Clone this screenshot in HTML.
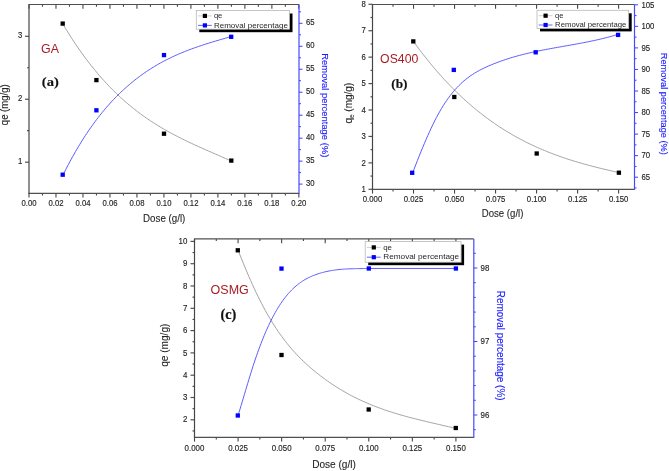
<!DOCTYPE html>
<html><head><meta charset="utf-8"><style>
html,body{margin:0;padding:0;background:#fff;}
body{width:669px;height:471px;overflow:hidden;}
svg{display:block;will-change:transform;}
</style></head><body>
<svg xmlns="http://www.w3.org/2000/svg" width="669" height="471" viewBox="0 0 669 471">
<rect width="669" height="471" fill="#fff"/>
<line x1="29.00" y1="193.30" x2="29.00" y2="197.60" stroke="#454545" stroke-width="1.1"/>
<line x1="29.00" y1="4.50" x2="29.00" y2="8.80" stroke="#454545" stroke-width="1.1"/>
<text transform="translate(29.00 205.70) scale(0.910 1)" font-family="Liberation Sans" font-size="8.5" fill="#262626" text-anchor="middle" stroke="#262626" stroke-width="0.15">0.00</text>
<line x1="42.49" y1="193.30" x2="42.49" y2="195.50" stroke="#454545" stroke-width="1.1"/>
<line x1="42.49" y1="4.50" x2="42.49" y2="6.70" stroke="#454545" stroke-width="1.1"/>
<line x1="55.98" y1="193.30" x2="55.98" y2="197.60" stroke="#454545" stroke-width="1.1"/>
<line x1="55.98" y1="4.50" x2="55.98" y2="8.80" stroke="#454545" stroke-width="1.1"/>
<text transform="translate(55.98 205.70) scale(0.910 1)" font-family="Liberation Sans" font-size="8.5" fill="#262626" text-anchor="middle" stroke="#262626" stroke-width="0.15">0.02</text>
<line x1="69.48" y1="193.30" x2="69.48" y2="195.50" stroke="#454545" stroke-width="1.1"/>
<line x1="69.48" y1="4.50" x2="69.48" y2="6.70" stroke="#454545" stroke-width="1.1"/>
<line x1="82.97" y1="193.30" x2="82.97" y2="197.60" stroke="#454545" stroke-width="1.1"/>
<line x1="82.97" y1="4.50" x2="82.97" y2="8.80" stroke="#454545" stroke-width="1.1"/>
<text transform="translate(82.97 205.70) scale(0.910 1)" font-family="Liberation Sans" font-size="8.5" fill="#262626" text-anchor="middle" stroke="#262626" stroke-width="0.15">0.04</text>
<line x1="96.46" y1="193.30" x2="96.46" y2="195.50" stroke="#454545" stroke-width="1.1"/>
<line x1="96.46" y1="4.50" x2="96.46" y2="6.70" stroke="#454545" stroke-width="1.1"/>
<line x1="109.95" y1="193.30" x2="109.95" y2="197.60" stroke="#454545" stroke-width="1.1"/>
<line x1="109.95" y1="4.50" x2="109.95" y2="8.80" stroke="#454545" stroke-width="1.1"/>
<text transform="translate(109.95 205.70) scale(0.910 1)" font-family="Liberation Sans" font-size="8.5" fill="#262626" text-anchor="middle" stroke="#262626" stroke-width="0.15">0.06</text>
<line x1="123.45" y1="193.30" x2="123.45" y2="195.50" stroke="#454545" stroke-width="1.1"/>
<line x1="123.45" y1="4.50" x2="123.45" y2="6.70" stroke="#454545" stroke-width="1.1"/>
<line x1="136.94" y1="193.30" x2="136.94" y2="197.60" stroke="#454545" stroke-width="1.1"/>
<line x1="136.94" y1="4.50" x2="136.94" y2="8.80" stroke="#454545" stroke-width="1.1"/>
<text transform="translate(136.94 205.70) scale(0.910 1)" font-family="Liberation Sans" font-size="8.5" fill="#262626" text-anchor="middle" stroke="#262626" stroke-width="0.15">0.08</text>
<line x1="150.43" y1="193.30" x2="150.43" y2="195.50" stroke="#454545" stroke-width="1.1"/>
<line x1="150.43" y1="4.50" x2="150.43" y2="6.70" stroke="#454545" stroke-width="1.1"/>
<line x1="163.93" y1="193.30" x2="163.93" y2="197.60" stroke="#454545" stroke-width="1.1"/>
<line x1="163.93" y1="4.50" x2="163.93" y2="8.80" stroke="#454545" stroke-width="1.1"/>
<text transform="translate(163.93 205.70) scale(0.910 1)" font-family="Liberation Sans" font-size="8.5" fill="#262626" text-anchor="middle" stroke="#262626" stroke-width="0.15">0.10</text>
<line x1="177.42" y1="193.30" x2="177.42" y2="195.50" stroke="#454545" stroke-width="1.1"/>
<line x1="177.42" y1="4.50" x2="177.42" y2="6.70" stroke="#454545" stroke-width="1.1"/>
<line x1="190.91" y1="193.30" x2="190.91" y2="197.60" stroke="#454545" stroke-width="1.1"/>
<line x1="190.91" y1="4.50" x2="190.91" y2="8.80" stroke="#454545" stroke-width="1.1"/>
<text transform="translate(190.91 205.70) scale(0.910 1)" font-family="Liberation Sans" font-size="8.5" fill="#262626" text-anchor="middle" stroke="#262626" stroke-width="0.15">0.12</text>
<line x1="204.40" y1="193.30" x2="204.40" y2="195.50" stroke="#454545" stroke-width="1.1"/>
<line x1="204.40" y1="4.50" x2="204.40" y2="6.70" stroke="#454545" stroke-width="1.1"/>
<line x1="217.90" y1="193.30" x2="217.90" y2="197.60" stroke="#454545" stroke-width="1.1"/>
<line x1="217.90" y1="4.50" x2="217.90" y2="8.80" stroke="#454545" stroke-width="1.1"/>
<text transform="translate(217.90 205.70) scale(0.910 1)" font-family="Liberation Sans" font-size="8.5" fill="#262626" text-anchor="middle" stroke="#262626" stroke-width="0.15">0.14</text>
<line x1="231.39" y1="193.30" x2="231.39" y2="195.50" stroke="#454545" stroke-width="1.1"/>
<line x1="231.39" y1="4.50" x2="231.39" y2="6.70" stroke="#454545" stroke-width="1.1"/>
<line x1="244.88" y1="193.30" x2="244.88" y2="197.60" stroke="#454545" stroke-width="1.1"/>
<line x1="244.88" y1="4.50" x2="244.88" y2="8.80" stroke="#454545" stroke-width="1.1"/>
<text transform="translate(244.88 205.70) scale(0.910 1)" font-family="Liberation Sans" font-size="8.5" fill="#262626" text-anchor="middle" stroke="#262626" stroke-width="0.15">0.16</text>
<line x1="258.37" y1="193.30" x2="258.37" y2="195.50" stroke="#454545" stroke-width="1.1"/>
<line x1="258.37" y1="4.50" x2="258.37" y2="6.70" stroke="#454545" stroke-width="1.1"/>
<line x1="271.87" y1="193.30" x2="271.87" y2="197.60" stroke="#454545" stroke-width="1.1"/>
<line x1="271.87" y1="4.50" x2="271.87" y2="8.80" stroke="#454545" stroke-width="1.1"/>
<text transform="translate(271.87 205.70) scale(0.910 1)" font-family="Liberation Sans" font-size="8.5" fill="#262626" text-anchor="middle" stroke="#262626" stroke-width="0.15">0.18</text>
<line x1="285.36" y1="193.30" x2="285.36" y2="195.50" stroke="#454545" stroke-width="1.1"/>
<line x1="285.36" y1="4.50" x2="285.36" y2="6.70" stroke="#454545" stroke-width="1.1"/>
<line x1="298.85" y1="193.30" x2="298.85" y2="197.60" stroke="#454545" stroke-width="1.1"/>
<line x1="298.85" y1="4.50" x2="298.85" y2="8.80" stroke="#454545" stroke-width="1.1"/>
<text transform="translate(298.85 205.70) scale(0.910 1)" font-family="Liberation Sans" font-size="8.5" fill="#262626" text-anchor="middle" stroke="#262626" stroke-width="0.15">0.20</text>
<line x1="25.00" y1="162.20" x2="29.00" y2="162.20" stroke="#505050" stroke-width="1.2"/>
<text transform="translate(22.30 164.24) scale(0.910 1)" font-family="Liberation Sans" font-size="8.5" fill="#262626" text-anchor="end" stroke="#262626" stroke-width="0.15">1</text>
<line x1="25.00" y1="99.25" x2="29.00" y2="99.25" stroke="#505050" stroke-width="1.2"/>
<text transform="translate(22.30 101.29) scale(0.910 1)" font-family="Liberation Sans" font-size="8.5" fill="#262626" text-anchor="end" stroke="#262626" stroke-width="0.15">2</text>
<line x1="25.00" y1="36.30" x2="29.00" y2="36.30" stroke="#505050" stroke-width="1.2"/>
<text transform="translate(22.30 38.34) scale(0.910 1)" font-family="Liberation Sans" font-size="8.5" fill="#262626" text-anchor="end" stroke="#262626" stroke-width="0.15">3</text>
<line x1="27.00" y1="130.72" x2="29.00" y2="130.72" stroke="#505050" stroke-width="1.2"/>
<line x1="27.00" y1="67.77" x2="29.00" y2="67.77" stroke="#505050" stroke-width="1.2"/>
<line x1="299.00" y1="184.10" x2="302.50" y2="184.10" stroke="#3c3cff" stroke-width="1.0"/>
<text transform="translate(306.00 186.14) scale(0.910 1)" font-family="Liberation Sans" font-size="8.5" fill="#262626" text-anchor="start" stroke="#262626" stroke-width="0.15">30</text>
<line x1="299.00" y1="161.13" x2="302.50" y2="161.13" stroke="#3c3cff" stroke-width="1.0"/>
<text transform="translate(306.00 163.17) scale(0.910 1)" font-family="Liberation Sans" font-size="8.5" fill="#262626" text-anchor="start" stroke="#262626" stroke-width="0.15">35</text>
<line x1="299.00" y1="138.16" x2="302.50" y2="138.16" stroke="#3c3cff" stroke-width="1.0"/>
<text transform="translate(306.00 140.20) scale(0.910 1)" font-family="Liberation Sans" font-size="8.5" fill="#262626" text-anchor="start" stroke="#262626" stroke-width="0.15">40</text>
<line x1="299.00" y1="115.19" x2="302.50" y2="115.19" stroke="#3c3cff" stroke-width="1.0"/>
<text transform="translate(306.00 117.23) scale(0.910 1)" font-family="Liberation Sans" font-size="8.5" fill="#262626" text-anchor="start" stroke="#262626" stroke-width="0.15">45</text>
<line x1="299.00" y1="92.22" x2="302.50" y2="92.22" stroke="#3c3cff" stroke-width="1.0"/>
<text transform="translate(306.00 94.26) scale(0.910 1)" font-family="Liberation Sans" font-size="8.5" fill="#262626" text-anchor="start" stroke="#262626" stroke-width="0.15">50</text>
<line x1="299.00" y1="69.25" x2="302.50" y2="69.25" stroke="#3c3cff" stroke-width="1.0"/>
<text transform="translate(306.00 71.29) scale(0.910 1)" font-family="Liberation Sans" font-size="8.5" fill="#262626" text-anchor="start" stroke="#262626" stroke-width="0.15">55</text>
<line x1="299.00" y1="46.28" x2="302.50" y2="46.28" stroke="#3c3cff" stroke-width="1.0"/>
<text transform="translate(306.00 48.32) scale(0.910 1)" font-family="Liberation Sans" font-size="8.5" fill="#262626" text-anchor="start" stroke="#262626" stroke-width="0.15">60</text>
<line x1="299.00" y1="23.31" x2="302.50" y2="23.31" stroke="#3c3cff" stroke-width="1.0"/>
<text transform="translate(306.00 25.35) scale(0.910 1)" font-family="Liberation Sans" font-size="8.5" fill="#262626" text-anchor="start" stroke="#262626" stroke-width="0.15">65</text>
<line x1="299.00" y1="172.61" x2="301.00" y2="172.61" stroke="#3c3cff" stroke-width="1.0"/>
<line x1="299.00" y1="149.64" x2="301.00" y2="149.64" stroke="#3c3cff" stroke-width="1.0"/>
<line x1="299.00" y1="126.67" x2="301.00" y2="126.67" stroke="#3c3cff" stroke-width="1.0"/>
<line x1="299.00" y1="103.70" x2="301.00" y2="103.70" stroke="#3c3cff" stroke-width="1.0"/>
<line x1="299.00" y1="80.73" x2="301.00" y2="80.73" stroke="#3c3cff" stroke-width="1.0"/>
<line x1="299.00" y1="57.76" x2="301.00" y2="57.76" stroke="#3c3cff" stroke-width="1.0"/>
<line x1="299.00" y1="34.79" x2="301.00" y2="34.79" stroke="#3c3cff" stroke-width="1.0"/>
<line x1="299.00" y1="11.82" x2="301.00" y2="11.82" stroke="#3c3cff" stroke-width="1.0"/>
<line x1="28.50" y1="193.30" x2="299.00" y2="193.30" stroke="#505050" stroke-width="1.2"/>
<line x1="28.50" y1="4.50" x2="299.00" y2="4.50" stroke="#505050" stroke-width="1.2"/>
<line x1="29.00" y1="4.50" x2="29.00" y2="193.90" stroke="#454545" stroke-width="1.2"/>
<line x1="299.00" y1="4.50" x2="299.00" y2="193.90" stroke="#4848ff" stroke-width="1.2"/>
<line x1="372.50" y1="189.30" x2="372.50" y2="193.60" stroke="#454545" stroke-width="1.1"/>
<line x1="372.50" y1="4.50" x2="372.50" y2="8.80" stroke="#454545" stroke-width="1.1"/>
<text transform="translate(372.50 201.70) scale(0.915 1)" font-family="Liberation Sans" font-size="8.5" fill="#262626" text-anchor="middle" stroke="#262626" stroke-width="0.15">0.000</text>
<line x1="393.01" y1="189.30" x2="393.01" y2="191.50" stroke="#454545" stroke-width="1.1"/>
<line x1="393.01" y1="4.50" x2="393.01" y2="6.70" stroke="#454545" stroke-width="1.1"/>
<line x1="413.52" y1="189.30" x2="413.52" y2="193.60" stroke="#454545" stroke-width="1.1"/>
<line x1="413.52" y1="4.50" x2="413.52" y2="8.80" stroke="#454545" stroke-width="1.1"/>
<text transform="translate(413.52 201.70) scale(0.915 1)" font-family="Liberation Sans" font-size="8.5" fill="#262626" text-anchor="middle" stroke="#262626" stroke-width="0.15">0.025</text>
<line x1="434.03" y1="189.30" x2="434.03" y2="191.50" stroke="#454545" stroke-width="1.1"/>
<line x1="434.03" y1="4.50" x2="434.03" y2="6.70" stroke="#454545" stroke-width="1.1"/>
<line x1="454.54" y1="189.30" x2="454.54" y2="193.60" stroke="#454545" stroke-width="1.1"/>
<line x1="454.54" y1="4.50" x2="454.54" y2="8.80" stroke="#454545" stroke-width="1.1"/>
<text transform="translate(454.54 201.70) scale(0.915 1)" font-family="Liberation Sans" font-size="8.5" fill="#262626" text-anchor="middle" stroke="#262626" stroke-width="0.15">0.050</text>
<line x1="475.05" y1="189.30" x2="475.05" y2="191.50" stroke="#454545" stroke-width="1.1"/>
<line x1="475.05" y1="4.50" x2="475.05" y2="6.70" stroke="#454545" stroke-width="1.1"/>
<line x1="495.56" y1="189.30" x2="495.56" y2="193.60" stroke="#454545" stroke-width="1.1"/>
<line x1="495.56" y1="4.50" x2="495.56" y2="8.80" stroke="#454545" stroke-width="1.1"/>
<text transform="translate(495.56 201.70) scale(0.915 1)" font-family="Liberation Sans" font-size="8.5" fill="#262626" text-anchor="middle" stroke="#262626" stroke-width="0.15">0.075</text>
<line x1="516.07" y1="189.30" x2="516.07" y2="191.50" stroke="#454545" stroke-width="1.1"/>
<line x1="516.07" y1="4.50" x2="516.07" y2="6.70" stroke="#454545" stroke-width="1.1"/>
<line x1="536.58" y1="189.30" x2="536.58" y2="193.60" stroke="#454545" stroke-width="1.1"/>
<line x1="536.58" y1="4.50" x2="536.58" y2="8.80" stroke="#454545" stroke-width="1.1"/>
<text transform="translate(536.58 201.70) scale(0.915 1)" font-family="Liberation Sans" font-size="8.5" fill="#262626" text-anchor="middle" stroke="#262626" stroke-width="0.15">0.100</text>
<line x1="557.09" y1="189.30" x2="557.09" y2="191.50" stroke="#454545" stroke-width="1.1"/>
<line x1="557.09" y1="4.50" x2="557.09" y2="6.70" stroke="#454545" stroke-width="1.1"/>
<line x1="577.60" y1="189.30" x2="577.60" y2="193.60" stroke="#454545" stroke-width="1.1"/>
<line x1="577.60" y1="4.50" x2="577.60" y2="8.80" stroke="#454545" stroke-width="1.1"/>
<text transform="translate(577.60 201.70) scale(0.915 1)" font-family="Liberation Sans" font-size="8.5" fill="#262626" text-anchor="middle" stroke="#262626" stroke-width="0.15">0.125</text>
<line x1="598.11" y1="189.30" x2="598.11" y2="191.50" stroke="#454545" stroke-width="1.1"/>
<line x1="598.11" y1="4.50" x2="598.11" y2="6.70" stroke="#454545" stroke-width="1.1"/>
<line x1="618.62" y1="189.30" x2="618.62" y2="193.60" stroke="#454545" stroke-width="1.1"/>
<line x1="618.62" y1="4.50" x2="618.62" y2="8.80" stroke="#454545" stroke-width="1.1"/>
<text transform="translate(618.62 201.70) scale(0.915 1)" font-family="Liberation Sans" font-size="8.5" fill="#262626" text-anchor="middle" stroke="#262626" stroke-width="0.15">0.150</text>
<line x1="368.50" y1="189.30" x2="372.50" y2="189.30" stroke="#505050" stroke-width="1.2"/>
<text transform="translate(365.80 192.04) scale(0.915 1)" font-family="Liberation Sans" font-size="8.5" fill="#262626" text-anchor="end" stroke="#262626" stroke-width="0.15">1</text>
<line x1="368.50" y1="162.87" x2="372.50" y2="162.87" stroke="#505050" stroke-width="1.2"/>
<text transform="translate(365.80 165.61) scale(0.915 1)" font-family="Liberation Sans" font-size="8.5" fill="#262626" text-anchor="end" stroke="#262626" stroke-width="0.15">2</text>
<line x1="368.50" y1="136.44" x2="372.50" y2="136.44" stroke="#505050" stroke-width="1.2"/>
<text transform="translate(365.80 139.18) scale(0.915 1)" font-family="Liberation Sans" font-size="8.5" fill="#262626" text-anchor="end" stroke="#262626" stroke-width="0.15">3</text>
<line x1="368.50" y1="110.01" x2="372.50" y2="110.01" stroke="#505050" stroke-width="1.2"/>
<text transform="translate(365.80 112.75) scale(0.915 1)" font-family="Liberation Sans" font-size="8.5" fill="#262626" text-anchor="end" stroke="#262626" stroke-width="0.15">4</text>
<line x1="368.50" y1="83.58" x2="372.50" y2="83.58" stroke="#505050" stroke-width="1.2"/>
<text transform="translate(365.80 86.32) scale(0.915 1)" font-family="Liberation Sans" font-size="8.5" fill="#262626" text-anchor="end" stroke="#262626" stroke-width="0.15">5</text>
<line x1="368.50" y1="57.15" x2="372.50" y2="57.15" stroke="#505050" stroke-width="1.2"/>
<text transform="translate(365.80 59.89) scale(0.915 1)" font-family="Liberation Sans" font-size="8.5" fill="#262626" text-anchor="end" stroke="#262626" stroke-width="0.15">6</text>
<line x1="368.50" y1="30.72" x2="372.50" y2="30.72" stroke="#505050" stroke-width="1.2"/>
<text transform="translate(365.80 33.46) scale(0.915 1)" font-family="Liberation Sans" font-size="8.5" fill="#262626" text-anchor="end" stroke="#262626" stroke-width="0.15">7</text>
<line x1="368.50" y1="4.29" x2="372.50" y2="4.29" stroke="#505050" stroke-width="1.2"/>
<text transform="translate(365.80 7.03) scale(0.915 1)" font-family="Liberation Sans" font-size="8.5" fill="#262626" text-anchor="end" stroke="#262626" stroke-width="0.15">8</text>
<line x1="370.50" y1="176.09" x2="372.50" y2="176.09" stroke="#505050" stroke-width="1.2"/>
<line x1="370.50" y1="149.66" x2="372.50" y2="149.66" stroke="#505050" stroke-width="1.2"/>
<line x1="370.50" y1="123.23" x2="372.50" y2="123.23" stroke="#505050" stroke-width="1.2"/>
<line x1="370.50" y1="96.80" x2="372.50" y2="96.80" stroke="#505050" stroke-width="1.2"/>
<line x1="370.50" y1="70.37" x2="372.50" y2="70.37" stroke="#505050" stroke-width="1.2"/>
<line x1="370.50" y1="43.94" x2="372.50" y2="43.94" stroke="#505050" stroke-width="1.2"/>
<line x1="370.50" y1="17.51" x2="372.50" y2="17.51" stroke="#505050" stroke-width="1.2"/>
<line x1="634.50" y1="177.20" x2="638.00" y2="177.20" stroke="#3c3cff" stroke-width="1.0"/>
<text transform="translate(641.40 179.94) scale(0.915 1)" font-family="Liberation Sans" font-size="8.5" fill="#262626" text-anchor="start" stroke="#262626" stroke-width="0.15">65</text>
<line x1="634.50" y1="155.65" x2="638.00" y2="155.65" stroke="#3c3cff" stroke-width="1.0"/>
<text transform="translate(641.40 158.39) scale(0.915 1)" font-family="Liberation Sans" font-size="8.5" fill="#262626" text-anchor="start" stroke="#262626" stroke-width="0.15">70</text>
<line x1="634.50" y1="134.10" x2="638.00" y2="134.10" stroke="#3c3cff" stroke-width="1.0"/>
<text transform="translate(641.40 136.84) scale(0.915 1)" font-family="Liberation Sans" font-size="8.5" fill="#262626" text-anchor="start" stroke="#262626" stroke-width="0.15">75</text>
<line x1="634.50" y1="112.55" x2="638.00" y2="112.55" stroke="#3c3cff" stroke-width="1.0"/>
<text transform="translate(641.40 115.29) scale(0.915 1)" font-family="Liberation Sans" font-size="8.5" fill="#262626" text-anchor="start" stroke="#262626" stroke-width="0.15">80</text>
<line x1="634.50" y1="91.00" x2="638.00" y2="91.00" stroke="#3c3cff" stroke-width="1.0"/>
<text transform="translate(641.40 93.74) scale(0.915 1)" font-family="Liberation Sans" font-size="8.5" fill="#262626" text-anchor="start" stroke="#262626" stroke-width="0.15">85</text>
<line x1="634.50" y1="69.45" x2="638.00" y2="69.45" stroke="#3c3cff" stroke-width="1.0"/>
<text transform="translate(641.40 72.19) scale(0.915 1)" font-family="Liberation Sans" font-size="8.5" fill="#262626" text-anchor="start" stroke="#262626" stroke-width="0.15">90</text>
<line x1="634.50" y1="47.90" x2="638.00" y2="47.90" stroke="#3c3cff" stroke-width="1.0"/>
<text transform="translate(641.40 50.64) scale(0.915 1)" font-family="Liberation Sans" font-size="8.5" fill="#262626" text-anchor="start" stroke="#262626" stroke-width="0.15">95</text>
<line x1="634.50" y1="26.35" x2="638.00" y2="26.35" stroke="#3c3cff" stroke-width="1.0"/>
<text transform="translate(641.40 29.09) scale(0.915 1)" font-family="Liberation Sans" font-size="8.5" fill="#262626" text-anchor="start" stroke="#262626" stroke-width="0.15">100</text>
<line x1="634.50" y1="4.80" x2="638.00" y2="4.80" stroke="#3c3cff" stroke-width="1.0"/>
<text transform="translate(641.40 7.54) scale(0.915 1)" font-family="Liberation Sans" font-size="8.5" fill="#262626" text-anchor="start" stroke="#262626" stroke-width="0.15">105</text>
<line x1="634.50" y1="187.97" x2="636.50" y2="187.97" stroke="#3c3cff" stroke-width="1.0"/>
<line x1="634.50" y1="166.42" x2="636.50" y2="166.42" stroke="#3c3cff" stroke-width="1.0"/>
<line x1="634.50" y1="144.88" x2="636.50" y2="144.88" stroke="#3c3cff" stroke-width="1.0"/>
<line x1="634.50" y1="123.32" x2="636.50" y2="123.32" stroke="#3c3cff" stroke-width="1.0"/>
<line x1="634.50" y1="101.77" x2="636.50" y2="101.77" stroke="#3c3cff" stroke-width="1.0"/>
<line x1="634.50" y1="80.22" x2="636.50" y2="80.22" stroke="#3c3cff" stroke-width="1.0"/>
<line x1="634.50" y1="58.67" x2="636.50" y2="58.67" stroke="#3c3cff" stroke-width="1.0"/>
<line x1="634.50" y1="37.12" x2="636.50" y2="37.12" stroke="#3c3cff" stroke-width="1.0"/>
<line x1="634.50" y1="15.58" x2="636.50" y2="15.58" stroke="#3c3cff" stroke-width="1.0"/>
<line x1="372.00" y1="189.30" x2="634.50" y2="189.30" stroke="#505050" stroke-width="1.2"/>
<line x1="372.00" y1="4.50" x2="634.50" y2="4.50" stroke="#505050" stroke-width="1.2"/>
<line x1="372.50" y1="4.50" x2="372.50" y2="189.90" stroke="#454545" stroke-width="1.2"/>
<line x1="634.50" y1="4.50" x2="634.50" y2="189.90" stroke="#4848ff" stroke-width="1.2"/>
<line x1="194.50" y1="437.30" x2="194.50" y2="441.60" stroke="#454545" stroke-width="1.1"/>
<line x1="194.50" y1="238.90" x2="194.50" y2="243.20" stroke="#454545" stroke-width="1.1"/>
<text transform="translate(194.50 450.80) scale(0.920 1)" font-family="Liberation Sans" font-size="8.6" fill="#262626" text-anchor="middle" stroke="#262626" stroke-width="0.15">0.000</text>
<line x1="216.28" y1="437.30" x2="216.28" y2="439.50" stroke="#454545" stroke-width="1.1"/>
<line x1="216.28" y1="238.90" x2="216.28" y2="241.10" stroke="#454545" stroke-width="1.1"/>
<line x1="238.07" y1="437.30" x2="238.07" y2="441.60" stroke="#454545" stroke-width="1.1"/>
<line x1="238.07" y1="238.90" x2="238.07" y2="243.20" stroke="#454545" stroke-width="1.1"/>
<text transform="translate(238.07 450.80) scale(0.920 1)" font-family="Liberation Sans" font-size="8.6" fill="#262626" text-anchor="middle" stroke="#262626" stroke-width="0.15">0.025</text>
<line x1="259.86" y1="437.30" x2="259.86" y2="439.50" stroke="#454545" stroke-width="1.1"/>
<line x1="259.86" y1="238.90" x2="259.86" y2="241.10" stroke="#454545" stroke-width="1.1"/>
<line x1="281.64" y1="437.30" x2="281.64" y2="441.60" stroke="#454545" stroke-width="1.1"/>
<line x1="281.64" y1="238.90" x2="281.64" y2="243.20" stroke="#454545" stroke-width="1.1"/>
<text transform="translate(281.64 450.80) scale(0.920 1)" font-family="Liberation Sans" font-size="8.6" fill="#262626" text-anchor="middle" stroke="#262626" stroke-width="0.15">0.050</text>
<line x1="303.43" y1="437.30" x2="303.43" y2="439.50" stroke="#454545" stroke-width="1.1"/>
<line x1="303.43" y1="238.90" x2="303.43" y2="241.10" stroke="#454545" stroke-width="1.1"/>
<line x1="325.21" y1="437.30" x2="325.21" y2="441.60" stroke="#454545" stroke-width="1.1"/>
<line x1="325.21" y1="238.90" x2="325.21" y2="243.20" stroke="#454545" stroke-width="1.1"/>
<text transform="translate(325.21 450.80) scale(0.920 1)" font-family="Liberation Sans" font-size="8.6" fill="#262626" text-anchor="middle" stroke="#262626" stroke-width="0.15">0.075</text>
<line x1="347.00" y1="437.30" x2="347.00" y2="439.50" stroke="#454545" stroke-width="1.1"/>
<line x1="347.00" y1="238.90" x2="347.00" y2="241.10" stroke="#454545" stroke-width="1.1"/>
<line x1="368.78" y1="437.30" x2="368.78" y2="441.60" stroke="#454545" stroke-width="1.1"/>
<line x1="368.78" y1="238.90" x2="368.78" y2="243.20" stroke="#454545" stroke-width="1.1"/>
<text transform="translate(368.78 450.80) scale(0.920 1)" font-family="Liberation Sans" font-size="8.6" fill="#262626" text-anchor="middle" stroke="#262626" stroke-width="0.15">0.100</text>
<line x1="390.56" y1="437.30" x2="390.56" y2="439.50" stroke="#454545" stroke-width="1.1"/>
<line x1="390.56" y1="238.90" x2="390.56" y2="241.10" stroke="#454545" stroke-width="1.1"/>
<line x1="412.35" y1="437.30" x2="412.35" y2="441.60" stroke="#454545" stroke-width="1.1"/>
<line x1="412.35" y1="238.90" x2="412.35" y2="243.20" stroke="#454545" stroke-width="1.1"/>
<text transform="translate(412.35 450.80) scale(0.920 1)" font-family="Liberation Sans" font-size="8.6" fill="#262626" text-anchor="middle" stroke="#262626" stroke-width="0.15">0.125</text>
<line x1="434.13" y1="437.30" x2="434.13" y2="439.50" stroke="#454545" stroke-width="1.1"/>
<line x1="434.13" y1="238.90" x2="434.13" y2="241.10" stroke="#454545" stroke-width="1.1"/>
<line x1="455.92" y1="437.30" x2="455.92" y2="441.60" stroke="#454545" stroke-width="1.1"/>
<line x1="455.92" y1="238.90" x2="455.92" y2="243.20" stroke="#454545" stroke-width="1.1"/>
<text transform="translate(455.92 450.80) scale(0.920 1)" font-family="Liberation Sans" font-size="8.6" fill="#262626" text-anchor="middle" stroke="#262626" stroke-width="0.15">0.150</text>
<line x1="190.50" y1="419.80" x2="194.50" y2="419.80" stroke="#505050" stroke-width="1.2"/>
<text transform="translate(187.30 422.48) scale(0.920 1)" font-family="Liberation Sans" font-size="8.6" fill="#262626" text-anchor="end" stroke="#262626" stroke-width="0.15">2</text>
<line x1="190.50" y1="397.50" x2="194.50" y2="397.50" stroke="#505050" stroke-width="1.2"/>
<text transform="translate(187.30 400.18) scale(0.920 1)" font-family="Liberation Sans" font-size="8.6" fill="#262626" text-anchor="end" stroke="#262626" stroke-width="0.15">3</text>
<line x1="190.50" y1="375.20" x2="194.50" y2="375.20" stroke="#505050" stroke-width="1.2"/>
<text transform="translate(187.30 377.88) scale(0.920 1)" font-family="Liberation Sans" font-size="8.6" fill="#262626" text-anchor="end" stroke="#262626" stroke-width="0.15">4</text>
<line x1="190.50" y1="352.90" x2="194.50" y2="352.90" stroke="#505050" stroke-width="1.2"/>
<text transform="translate(187.30 355.58) scale(0.920 1)" font-family="Liberation Sans" font-size="8.6" fill="#262626" text-anchor="end" stroke="#262626" stroke-width="0.15">5</text>
<line x1="190.50" y1="330.60" x2="194.50" y2="330.60" stroke="#505050" stroke-width="1.2"/>
<text transform="translate(187.30 333.28) scale(0.920 1)" font-family="Liberation Sans" font-size="8.6" fill="#262626" text-anchor="end" stroke="#262626" stroke-width="0.15">6</text>
<line x1="190.50" y1="308.30" x2="194.50" y2="308.30" stroke="#505050" stroke-width="1.2"/>
<text transform="translate(187.30 310.98) scale(0.920 1)" font-family="Liberation Sans" font-size="8.6" fill="#262626" text-anchor="end" stroke="#262626" stroke-width="0.15">7</text>
<line x1="190.50" y1="286.00" x2="194.50" y2="286.00" stroke="#505050" stroke-width="1.2"/>
<text transform="translate(187.30 288.68) scale(0.920 1)" font-family="Liberation Sans" font-size="8.6" fill="#262626" text-anchor="end" stroke="#262626" stroke-width="0.15">8</text>
<line x1="190.50" y1="263.70" x2="194.50" y2="263.70" stroke="#505050" stroke-width="1.2"/>
<text transform="translate(187.30 266.38) scale(0.920 1)" font-family="Liberation Sans" font-size="8.6" fill="#262626" text-anchor="end" stroke="#262626" stroke-width="0.15">9</text>
<line x1="190.50" y1="241.40" x2="194.50" y2="241.40" stroke="#505050" stroke-width="1.2"/>
<text transform="translate(187.30 244.08) scale(0.920 1)" font-family="Liberation Sans" font-size="8.6" fill="#262626" text-anchor="end" stroke="#262626" stroke-width="0.15">10</text>
<line x1="192.50" y1="430.95" x2="194.50" y2="430.95" stroke="#505050" stroke-width="1.2"/>
<line x1="192.50" y1="408.65" x2="194.50" y2="408.65" stroke="#505050" stroke-width="1.2"/>
<line x1="192.50" y1="386.35" x2="194.50" y2="386.35" stroke="#505050" stroke-width="1.2"/>
<line x1="192.50" y1="364.05" x2="194.50" y2="364.05" stroke="#505050" stroke-width="1.2"/>
<line x1="192.50" y1="341.75" x2="194.50" y2="341.75" stroke="#505050" stroke-width="1.2"/>
<line x1="192.50" y1="319.45" x2="194.50" y2="319.45" stroke="#505050" stroke-width="1.2"/>
<line x1="192.50" y1="297.15" x2="194.50" y2="297.15" stroke="#505050" stroke-width="1.2"/>
<line x1="192.50" y1="274.85" x2="194.50" y2="274.85" stroke="#505050" stroke-width="1.2"/>
<line x1="192.50" y1="252.55" x2="194.50" y2="252.55" stroke="#505050" stroke-width="1.2"/>
<line x1="473.80" y1="415.00" x2="477.30" y2="415.00" stroke="#3c3cff" stroke-width="1.0"/>
<text transform="translate(480.60 417.68) scale(0.920 1)" font-family="Liberation Sans" font-size="8.6" fill="#262626" text-anchor="start" stroke="#262626" stroke-width="0.15">96</text>
<line x1="473.80" y1="341.50" x2="477.30" y2="341.50" stroke="#3c3cff" stroke-width="1.0"/>
<text transform="translate(480.60 344.18) scale(0.920 1)" font-family="Liberation Sans" font-size="8.6" fill="#262626" text-anchor="start" stroke="#262626" stroke-width="0.15">97</text>
<line x1="473.80" y1="268.00" x2="477.30" y2="268.00" stroke="#3c3cff" stroke-width="1.0"/>
<text transform="translate(480.60 270.68) scale(0.920 1)" font-family="Liberation Sans" font-size="8.6" fill="#262626" text-anchor="start" stroke="#262626" stroke-width="0.15">98</text>
<line x1="473.80" y1="429.70" x2="475.80" y2="429.70" stroke="#3c3cff" stroke-width="1.0"/>
<line x1="473.80" y1="400.30" x2="475.80" y2="400.30" stroke="#3c3cff" stroke-width="1.0"/>
<line x1="473.80" y1="385.60" x2="475.80" y2="385.60" stroke="#3c3cff" stroke-width="1.0"/>
<line x1="473.80" y1="370.90" x2="475.80" y2="370.90" stroke="#3c3cff" stroke-width="1.0"/>
<line x1="473.80" y1="356.20" x2="475.80" y2="356.20" stroke="#3c3cff" stroke-width="1.0"/>
<line x1="473.80" y1="326.80" x2="475.80" y2="326.80" stroke="#3c3cff" stroke-width="1.0"/>
<line x1="473.80" y1="312.10" x2="475.80" y2="312.10" stroke="#3c3cff" stroke-width="1.0"/>
<line x1="473.80" y1="297.40" x2="475.80" y2="297.40" stroke="#3c3cff" stroke-width="1.0"/>
<line x1="473.80" y1="282.70" x2="475.80" y2="282.70" stroke="#3c3cff" stroke-width="1.0"/>
<line x1="473.80" y1="253.30" x2="475.80" y2="253.30" stroke="#3c3cff" stroke-width="1.0"/>
<line x1="194.00" y1="437.30" x2="473.80" y2="437.30" stroke="#505050" stroke-width="1.2"/>
<line x1="194.00" y1="238.90" x2="473.80" y2="238.90" stroke="#505050" stroke-width="1.2"/>
<line x1="194.50" y1="238.90" x2="194.50" y2="437.90" stroke="#454545" stroke-width="1.2"/>
<line x1="473.80" y1="238.90" x2="473.80" y2="437.90" stroke="#4848ff" stroke-width="1.2"/>
<path d="M62.60,23.54 L64.02,25.92 L65.43,28.27 L66.85,30.58 L68.27,32.86 L69.68,35.11 L71.10,37.33 L72.52,39.52 L73.93,41.68 L75.35,43.80 L76.77,45.90 L78.18,47.96 L79.60,50.00 L81.02,52.01 L82.44,53.98 L83.85,55.93 L85.27,57.85 L86.69,59.75 L88.10,61.61 L89.52,63.45 L90.94,65.26 L92.35,67.04 L93.77,68.80 L95.19,70.53 L96.60,72.23 L98.02,73.91 L99.44,75.57 L100.85,77.19 L102.27,78.80 L103.69,80.38 L105.10,81.93 L106.52,83.46 L107.94,84.97 L109.35,86.46 L110.77,87.92 L112.19,89.36 L113.61,90.77 L115.02,92.17 L116.44,93.54 L117.86,94.89 L119.27,96.23 L120.69,97.54 L122.11,98.83 L123.52,100.10 L124.94,101.35 L126.36,102.58 L127.77,103.79 L129.19,104.98 L130.61,106.15 L132.02,107.31 L133.44,108.45 L134.86,109.56 L136.27,110.67 L137.69,111.75 L139.11,112.82 L140.52,113.87 L141.94,114.91 L143.36,115.93 L144.77,116.93 L146.19,117.92 L147.61,118.90 L149.03,119.86 L150.44,120.80 L151.86,121.73 L153.28,122.65 L154.69,123.56 L156.11,124.45 L157.53,125.33 L158.94,126.19 L160.36,127.05 L161.78,127.89 L163.19,128.72 L164.61,129.54 L166.03,130.35 L167.44,131.14 L168.86,131.93 L170.28,132.71 L171.69,133.48 L173.11,134.24 L174.53,134.98 L175.94,135.73 L177.36,136.46 L178.78,137.18 L180.19,137.90 L181.61,138.61 L183.03,139.31 L184.45,140.00 L185.86,140.69 L187.28,141.37 L188.70,142.04 L190.11,142.71 L191.53,143.38 L192.95,144.04 L194.36,144.69 L195.78,145.34 L197.20,145.99 L198.61,146.63 L200.03,147.27 L201.45,147.90 L202.86,148.53 L204.28,149.16 L205.70,149.79 L207.11,150.41 L208.53,151.04 L209.95,151.66 L211.36,152.28 L212.78,152.90 L214.20,153.52 L215.62,154.14 L217.03,154.75 L218.45,155.37 L219.87,155.99 L221.28,156.62 L222.70,157.24 L224.12,157.86 L225.53,158.49 L226.95,159.12 L228.37,159.75 L229.78,160.38 L231.20,161.02" fill="none" stroke="#999999" stroke-width="0.9"/>
<path d="M62.80,175.39 L64.21,172.56 L65.63,169.77 L67.04,167.03 L68.46,164.34 L69.87,161.70 L71.29,159.10 L72.70,156.54 L74.11,154.03 L75.53,151.56 L76.94,149.13 L78.36,146.75 L79.77,144.41 L81.19,142.11 L82.60,139.85 L84.01,137.63 L85.43,135.45 L86.84,133.31 L88.26,131.21 L89.67,129.15 L91.09,127.12 L92.50,125.14 L93.91,123.19 L95.33,121.27 L96.74,119.39 L98.16,117.54 L99.57,115.73 L100.99,113.96 L102.40,112.21 L103.81,110.50 L105.23,108.82 L106.64,107.17 L108.06,105.56 L109.47,103.97 L110.89,102.41 L112.30,100.88 L113.71,99.39 L115.13,97.92 L116.54,96.47 L117.96,95.06 L119.37,93.67 L120.79,92.31 L122.20,90.97 L123.61,89.66 L125.03,88.37 L126.44,87.11 L127.86,85.87 L129.27,84.65 L130.69,83.45 L132.10,82.28 L133.51,81.13 L134.93,80.00 L136.34,78.89 L137.76,77.81 L139.17,76.74 L140.59,75.70 L142.00,74.67 L143.41,73.67 L144.83,72.68 L146.24,71.71 L147.66,70.77 L149.07,69.84 L150.49,68.93 L151.90,68.03 L153.31,67.16 L154.73,66.30 L156.14,65.46 L157.56,64.63 L158.97,63.82 L160.39,63.03 L161.80,62.25 L163.21,61.49 L164.63,60.74 L166.04,60.01 L167.46,59.29 L168.87,58.59 L170.29,57.90 L171.70,57.22 L173.11,56.56 L174.53,55.90 L175.94,55.26 L177.36,54.64 L178.77,54.02 L180.19,53.42 L181.60,52.83 L183.01,52.24 L184.43,51.67 L185.84,51.11 L187.26,50.56 L188.67,50.02 L190.09,49.48 L191.50,48.96 L192.91,48.44 L194.33,47.93 L195.74,47.43 L197.16,46.94 L198.57,46.46 L199.99,45.98 L201.40,45.51 L202.81,45.04 L204.23,44.58 L205.64,44.13 L207.06,43.68 L208.47,43.24 L209.89,42.80 L211.30,42.36 L212.71,41.93 L214.13,41.51 L215.54,41.08 L216.96,40.66 L218.37,40.25 L219.79,39.83 L221.20,39.42 L222.61,39.01 L224.03,38.60 L225.44,38.19 L226.86,37.78 L228.27,37.37 L229.69,36.96 L231.10,36.56" fill="none" stroke="#5252ff" stroke-width="0.95"/>
<path d="M413.20,41.10 L414.93,43.49 L416.66,45.85 L418.39,48.17 L420.11,50.46 L421.84,52.73 L423.57,54.96 L425.30,57.16 L427.03,59.33 L428.76,61.47 L430.49,63.59 L432.21,65.67 L433.94,67.73 L435.67,69.76 L437.40,71.75 L439.13,73.73 L440.86,75.67 L442.59,77.58 L444.31,79.47 L446.04,81.33 L447.77,83.17 L449.50,84.97 L451.23,86.75 L452.96,88.51 L454.69,90.24 L456.41,91.94 L458.14,93.62 L459.87,95.27 L461.60,96.90 L463.33,98.50 L465.06,100.08 L466.79,101.64 L468.51,103.17 L470.24,104.67 L471.97,106.16 L473.70,107.62 L475.43,109.06 L477.16,110.47 L478.89,111.86 L480.61,113.23 L482.34,114.58 L484.07,115.91 L485.80,117.21 L487.53,118.50 L489.26,119.76 L490.99,121.00 L492.71,122.22 L494.44,123.43 L496.17,124.61 L497.90,125.77 L499.63,126.91 L501.36,128.03 L503.09,129.14 L504.81,130.22 L506.54,131.29 L508.27,132.34 L510.00,133.37 L511.73,134.38 L513.46,135.38 L515.19,136.35 L516.91,137.31 L518.64,138.26 L520.37,139.18 L522.10,140.09 L523.83,140.99 L525.56,141.87 L527.29,142.73 L529.01,143.58 L530.74,144.41 L532.47,145.23 L534.20,146.03 L535.93,146.82 L537.66,147.60 L539.39,148.36 L541.11,149.11 L542.84,149.84 L544.57,150.56 L546.30,151.27 L548.03,151.97 L549.76,152.65 L551.49,153.32 L553.21,153.98 L554.94,154.63 L556.67,155.26 L558.40,155.89 L560.13,156.50 L561.86,157.10 L563.59,157.70 L565.31,158.28 L567.04,158.85 L568.77,159.41 L570.50,159.97 L572.23,160.51 L573.96,161.04 L575.69,161.57 L577.41,162.09 L579.14,162.60 L580.87,163.10 L582.60,163.59 L584.33,164.08 L586.06,164.56 L587.79,165.03 L589.51,165.50 L591.24,165.96 L592.97,166.41 L594.70,166.85 L596.43,167.30 L598.16,167.73 L599.89,168.16 L601.61,168.59 L603.34,169.01 L605.07,169.42 L606.80,169.83 L608.53,170.24 L610.26,170.64 L611.99,171.04 L613.71,171.44 L615.44,171.83 L617.17,172.22 L618.90,172.61" fill="none" stroke="#999999" stroke-width="0.9"/>
<path d="M412.20,173.96 L413.93,169.46 L415.66,165.01 L417.39,160.61 L419.11,156.26 L420.84,151.98 L422.57,147.77 L424.30,143.65 L426.03,139.61 L427.76,135.66 L429.49,131.82 L431.21,128.08 L432.94,124.46 L434.67,120.97 L436.40,117.60 L438.13,114.38 L439.86,111.30 L441.59,108.35 L443.31,105.54 L445.04,102.86 L446.77,100.31 L448.50,97.88 L450.23,95.57 L451.96,93.37 L453.69,91.28 L455.41,89.30 L457.14,87.42 L458.87,85.63 L460.60,83.94 L462.33,82.34 L464.06,80.82 L465.79,79.39 L467.51,78.02 L469.24,76.74 L470.97,75.52 L472.70,74.36 L474.43,73.26 L476.16,72.22 L477.89,71.23 L479.61,70.29 L481.34,69.39 L483.07,68.53 L484.80,67.70 L486.53,66.91 L488.26,66.14 L489.99,65.39 L491.71,64.67 L493.44,63.96 L495.17,63.28 L496.90,62.61 L498.63,61.96 L500.36,61.33 L502.09,60.71 L503.81,60.11 L505.54,59.53 L507.27,58.97 L509.00,58.42 L510.73,57.88 L512.46,57.36 L514.19,56.86 L515.91,56.36 L517.64,55.88 L519.37,55.42 L521.10,54.96 L522.83,54.52 L524.56,54.09 L526.29,53.67 L528.01,53.26 L529.74,52.86 L531.47,52.46 L533.20,52.08 L534.93,51.71 L536.66,51.34 L538.39,50.98 L540.11,50.63 L541.84,50.28 L543.57,49.95 L545.30,49.61 L547.03,49.28 L548.76,48.96 L550.49,48.64 L552.21,48.32 L553.94,48.01 L555.67,47.70 L557.40,47.39 L559.13,47.09 L560.86,46.78 L562.59,46.48 L564.31,46.17 L566.04,45.87 L567.77,45.57 L569.50,45.26 L571.23,44.95 L572.96,44.65 L574.69,44.33 L576.41,44.02 L578.14,43.70 L579.87,43.38 L581.60,43.06 L583.33,42.72 L585.06,42.39 L586.79,42.05 L588.51,41.70 L590.24,41.34 L591.97,40.98 L593.70,40.61 L595.43,40.24 L597.16,39.85 L598.89,39.45 L600.61,39.05 L602.34,38.63 L604.07,38.21 L605.80,37.77 L607.53,37.32 L609.26,36.86 L610.99,36.39 L612.71,35.91 L614.44,35.41 L616.17,34.90 L617.90,34.37" fill="none" stroke="#5252ff" stroke-width="0.95"/>
<path d="M237.80,249.37 L239.63,254.07 L241.47,258.69 L243.30,263.23 L245.13,267.68 L246.96,272.04 L248.80,276.32 L250.63,280.50 L252.46,284.59 L254.29,288.58 L256.13,292.47 L257.96,296.27 L259.79,299.96 L261.63,303.56 L263.46,307.04 L265.29,310.43 L267.12,313.70 L268.96,316.88 L270.79,319.96 L272.62,322.94 L274.46,325.83 L276.29,328.64 L278.12,331.35 L279.95,333.98 L281.79,336.52 L283.62,338.99 L285.45,341.38 L287.28,343.70 L289.12,345.94 L290.95,348.11 L292.78,350.22 L294.62,352.27 L296.45,354.25 L298.28,356.18 L300.11,358.04 L301.95,359.86 L303.78,361.63 L305.61,363.34 L307.45,365.02 L309.28,366.65 L311.11,368.24 L312.94,369.79 L314.78,371.31 L316.61,372.79 L318.44,374.25 L320.27,375.67 L322.11,377.07 L323.94,378.43 L325.77,379.77 L327.61,381.07 L329.44,382.35 L331.27,383.60 L333.10,384.82 L334.94,386.02 L336.77,387.19 L338.60,388.33 L340.44,389.44 L342.27,390.54 L344.10,391.60 L345.93,392.65 L347.77,393.67 L349.60,394.66 L351.43,395.64 L353.26,396.59 L355.10,397.51 L356.93,398.42 L358.76,399.31 L360.60,400.17 L362.43,401.02 L364.26,401.85 L366.09,402.65 L367.93,403.44 L369.76,404.21 L371.59,404.97 L373.43,405.70 L375.26,406.42 L377.09,407.12 L378.92,407.81 L380.76,408.48 L382.59,409.14 L384.42,409.78 L386.25,410.41 L388.09,411.02 L389.92,411.62 L391.75,412.21 L393.59,412.79 L395.42,413.35 L397.25,413.90 L399.08,414.45 L400.92,414.98 L402.75,415.50 L404.58,416.01 L406.42,416.52 L408.25,417.01 L410.08,417.50 L411.91,417.98 L413.75,418.45 L415.58,418.92 L417.41,419.38 L419.24,419.83 L421.08,420.28 L422.91,420.73 L424.74,421.17 L426.58,421.60 L428.41,422.04 L430.24,422.47 L432.07,422.90 L433.91,423.32 L435.74,423.75 L437.57,424.17 L439.41,424.59 L441.24,425.01 L443.07,425.44 L444.90,425.86 L446.74,426.29 L448.57,426.71 L450.40,427.14 L452.23,427.57 L454.07,428.01 L455.90,428.45" fill="none" stroke="#999999" stroke-width="0.9"/>
<path d="M237.80,416.11 L238.90,412.66 L240.00,409.13 L241.10,405.52 L242.20,401.87 L243.30,398.18 L244.40,394.47 L245.50,390.75 L246.60,387.05 L247.70,383.38 L248.80,379.73 L249.90,376.13 L251.00,372.58 L252.10,369.08 L253.20,365.65 L254.30,362.29 L255.40,359.01 L256.50,355.81 L257.60,352.68 L258.70,349.63 L259.80,346.66 L260.90,343.76 L262.00,340.94 L263.10,338.19 L264.20,335.52 L265.30,332.92 L266.40,330.38 L267.50,327.92 L268.60,325.53 L269.70,323.21 L270.80,320.96 L271.90,318.77 L273.00,316.65 L274.10,314.60 L275.20,312.62 L276.30,310.69 L277.40,308.84 L278.50,307.04 L279.60,305.31 L280.70,303.64 L281.80,302.03 L282.90,300.47 L284.00,298.98 L285.10,297.53 L286.20,296.15 L287.30,294.81 L288.40,293.53 L289.50,292.30 L290.60,291.12 L291.70,289.98 L292.80,288.90 L293.90,287.85 L295.00,286.86 L296.10,285.90 L297.20,284.99 L298.30,284.11 L299.40,283.28 L300.50,282.48 L301.60,281.72 L302.70,281.00 L303.80,280.31 L304.90,279.65 L306.00,279.02 L307.10,278.42 L308.20,277.85 L309.30,277.31 L310.40,276.80 L311.50,276.31 L312.60,275.84 L313.70,275.40 L314.80,274.97 L315.90,274.57 L317.00,274.18 L318.10,273.81 L319.20,273.46 L320.30,273.13 L321.40,272.81 L322.50,272.51 L323.60,272.22 L324.70,271.95 L325.80,271.69 L326.90,271.45 L328.00,271.22 L329.10,271.00 L330.20,270.80 L331.30,270.60 L332.40,270.42 L333.50,270.26 L334.60,270.10 L335.70,269.95 L336.80,269.82 L337.90,269.69 L339.00,269.57 L340.10,269.47 L341.20,269.37 L342.30,269.28 L343.40,269.19 L344.50,269.12 L345.60,269.05 L346.70,268.99 L347.80,268.93 L348.90,268.88 L350.00,268.83 L351.10,268.79 L352.20,268.76 L353.30,268.72 L354.40,268.70 L355.50,268.67 L356.60,268.65 L357.70,268.63 L358.80,268.61 L359.90,268.59 L361.00,268.58 L362.10,268.56 L363.20,268.55 L364.30,268.53 L365.40,268.52 L366.50,268.50 L367.60,268.48 L368.70,268.46 L455.90,268.46" fill="none" stroke="#5252ff" stroke-width="0.95"/>
<rect x="60.55" y="21.45" width="4.30" height="4.30" fill="#000"/>
<rect x="94.25" y="77.95" width="4.30" height="4.30" fill="#000"/>
<rect x="161.85" y="131.55" width="4.30" height="4.30" fill="#000"/>
<rect x="229.15" y="158.45" width="4.30" height="4.30" fill="#000"/>
<rect x="60.55" y="172.55" width="4.30" height="4.30" fill="#0000ff"/>
<rect x="94.25" y="108.15" width="4.30" height="4.30" fill="#0000ff"/>
<rect x="161.85" y="52.95" width="4.30" height="4.30" fill="#0000ff"/>
<rect x="229.05" y="34.65" width="4.30" height="4.30" fill="#0000ff"/>
<rect x="411.15" y="39.25" width="4.30" height="4.30" fill="#000"/>
<rect x="452.15" y="94.85" width="4.30" height="4.30" fill="#000"/>
<rect x="534.55" y="151.35" width="4.30" height="4.30" fill="#000"/>
<rect x="616.75" y="170.55" width="4.30" height="4.30" fill="#000"/>
<rect x="410.05" y="170.65" width="4.30" height="4.30" fill="#0000ff"/>
<rect x="451.65" y="67.75" width="4.30" height="4.30" fill="#0000ff"/>
<rect x="533.55" y="50.15" width="4.30" height="4.30" fill="#0000ff"/>
<rect x="615.95" y="32.75" width="4.30" height="4.30" fill="#0000ff"/>
<rect x="235.65" y="248.15" width="4.30" height="4.30" fill="#000"/>
<rect x="279.35" y="352.85" width="4.30" height="4.30" fill="#000"/>
<rect x="366.55" y="407.35" width="4.30" height="4.30" fill="#000"/>
<rect x="453.65" y="425.85" width="4.30" height="4.30" fill="#000"/>
<rect x="235.65" y="413.35" width="4.30" height="4.30" fill="#0000ff"/>
<rect x="279.35" y="266.45" width="4.30" height="4.30" fill="#0000ff"/>
<rect x="366.65" y="266.35" width="4.30" height="4.30" fill="#0000ff"/>
<rect x="453.75" y="266.35" width="4.30" height="4.30" fill="#0000ff"/>
<rect x="199.30" y="13.50" width="93.20" height="18.70" fill="#000"/>
<rect x="196.30" y="10.50" width="93.20" height="18.70" fill="#fff" stroke="#b8b8b8" stroke-width="0.8"/>
<line x1="198.00" y1="15.90" x2="211.80" y2="15.90" stroke="#c8c8c8" stroke-width="0.9"/>
<rect x="202.80" y="13.80" width="4.20" height="4.20" fill="#000"/>
<line x1="198.00" y1="25.40" x2="211.80" y2="25.40" stroke="#5555ff" stroke-width="0.9"/>
<rect x="202.80" y="23.30" width="4.20" height="4.20" fill="#0000ff"/>
<text transform="translate(213.90 18.00)" font-family="Liberation Sans" font-size="7.6" fill="#262626" text-anchor="start">qe</text>
<text transform="translate(213.90 27.50)" font-family="Liberation Sans" font-size="7.6" fill="#262626" text-anchor="start" textLength="74.00" lengthAdjust="spacingAndGlyphs">Removal percentage</text>
<rect x="540.00" y="13.30" width="91.70" height="18.10" fill="#000"/>
<rect x="537.00" y="10.30" width="91.70" height="18.10" fill="#fff" stroke="#b8b8b8" stroke-width="0.8"/>
<line x1="538.70" y1="15.70" x2="552.50" y2="15.70" stroke="#c8c8c8" stroke-width="0.9"/>
<rect x="543.50" y="13.60" width="4.20" height="4.20" fill="#000"/>
<line x1="538.70" y1="25.00" x2="552.50" y2="25.00" stroke="#5555ff" stroke-width="0.9"/>
<rect x="543.50" y="22.90" width="4.20" height="4.20" fill="#0000ff"/>
<text transform="translate(555.10 17.80)" font-family="Liberation Sans" font-size="7.6" fill="#262626" text-anchor="start">qe</text>
<text transform="translate(555.10 27.10)" font-family="Liberation Sans" font-size="7.6" fill="#262626" text-anchor="start" textLength="71.30" lengthAdjust="spacingAndGlyphs">Removal percentage</text>
<rect x="368.20" y="244.60" width="95.90" height="20.60" fill="#000"/>
<rect x="365.20" y="241.60" width="95.90" height="20.60" fill="#fff" stroke="#b8b8b8" stroke-width="0.8"/>
<line x1="366.90" y1="247.40" x2="380.70" y2="247.40" stroke="#c8c8c8" stroke-width="0.9"/>
<rect x="371.70" y="245.30" width="4.20" height="4.20" fill="#000"/>
<line x1="366.90" y1="257.20" x2="380.70" y2="257.20" stroke="#5555ff" stroke-width="0.9"/>
<rect x="371.70" y="255.10" width="4.20" height="4.20" fill="#0000ff"/>
<text transform="translate(383.20 249.50)" font-family="Liberation Sans" font-size="7.9" fill="#262626" text-anchor="start">qe</text>
<text transform="translate(383.20 259.30)" font-family="Liberation Sans" font-size="7.9" fill="#262626" text-anchor="start" textLength="76.00" lengthAdjust="spacingAndGlyphs">Removal percentage</text>
<text transform="translate(164.20 221.60)" font-family="Liberation Sans" font-size="10" fill="#262626" text-anchor="middle" stroke="#262626" stroke-width="0.1" textLength="42.30" lengthAdjust="spacingAndGlyphs">Dose (g/l)</text>
<text transform="translate(502.60 217.40)" font-family="Liberation Sans" font-size="10" fill="#262626" text-anchor="middle" stroke="#262626" stroke-width="0.1" textLength="41.60" lengthAdjust="spacingAndGlyphs">Dose (g/l)</text>
<text transform="translate(334.00 467.60)" font-family="Liberation Sans" font-size="10.2" fill="#262626" text-anchor="middle" stroke="#262626" stroke-width="0.1" textLength="43.70" lengthAdjust="spacingAndGlyphs">Dose (g/l)</text>
<text transform="translate(8.30 104.70) rotate(-90)" font-family="Liberation Sans" font-size="10" fill="#262626" text-anchor="middle" stroke="#262626" stroke-width="0.1" textLength="41.00" lengthAdjust="spacingAndGlyphs">qe (mg/g)</text>
<text transform="translate(351.60 103.20) rotate(-90)" font-family="Liberation Sans" font-size="10" fill="#262626" text-anchor="middle" stroke="#262626" stroke-width="0.1">q<tspan font-size="6.5" dy="2">e</tspan><tspan dy="-2"> (mg/g)</tspan></text>
<text transform="translate(167.90 345.20) rotate(-90)" font-family="Liberation Sans" font-size="10.3" fill="#262626" text-anchor="middle" stroke="#262626" stroke-width="0.1" textLength="43.20" lengthAdjust="spacingAndGlyphs">qe (mg/g)</text>
<text transform="translate(321.90 105.30) rotate(90)" font-family="Liberation Sans" font-size="9.8" fill="#1c1cff" text-anchor="middle" stroke="#1c1cff" stroke-width="0.12" textLength="104.00" lengthAdjust="spacingAndGlyphs">Removal percentage (%)</text>
<text transform="translate(660.80 103.80) rotate(90)" font-family="Liberation Sans" font-size="9.8" fill="#1c1cff" text-anchor="middle" stroke="#1c1cff" stroke-width="0.12" textLength="102.00" lengthAdjust="spacingAndGlyphs">Removal percentage (%)</text>
<text transform="translate(497.30 345.70) rotate(90)" font-family="Liberation Sans" font-size="10.2" fill="#1c1cff" text-anchor="middle" stroke="#1c1cff" stroke-width="0.12" textLength="109.70" lengthAdjust="spacingAndGlyphs">Removal percentage (%)</text>
<text transform="translate(41.05 52.70)" font-family="Liberation Sans" font-size="12.4" fill="#a81c24" text-anchor="start" textLength="17.95" lengthAdjust="spacingAndGlyphs">GA</text>
<text transform="translate(380.10 63.00)" font-family="Liberation Sans" font-size="12.0" fill="#a81c24" text-anchor="start" textLength="38.20" lengthAdjust="spacingAndGlyphs">OS400</text>
<text transform="translate(210.60 293.80)" font-family="Liberation Sans" font-size="12.4" fill="#a81c24" text-anchor="start" textLength="38.20" lengthAdjust="spacingAndGlyphs">OSMG</text>
<text transform="translate(41.80 86.40)" font-family="Liberation Serif" font-size="13" fill="#111" text-anchor="start" font-weight="bold" stroke="#111" stroke-width="0.15" textLength="17.00" lengthAdjust="spacingAndGlyphs">(a)</text>
<text transform="translate(391.30 87.50)" font-family="Liberation Serif" font-size="13" fill="#111" text-anchor="start" font-weight="bold" stroke="#111" stroke-width="0.15" textLength="16.20" lengthAdjust="spacingAndGlyphs">(b)</text>
<text transform="translate(220.40 318.60)" font-family="Liberation Serif" font-size="14" fill="#111" text-anchor="start" font-weight="bold" stroke="#111" stroke-width="0.2" textLength="15.90" lengthAdjust="spacingAndGlyphs">(c)</text>
</svg>
</body></html>
